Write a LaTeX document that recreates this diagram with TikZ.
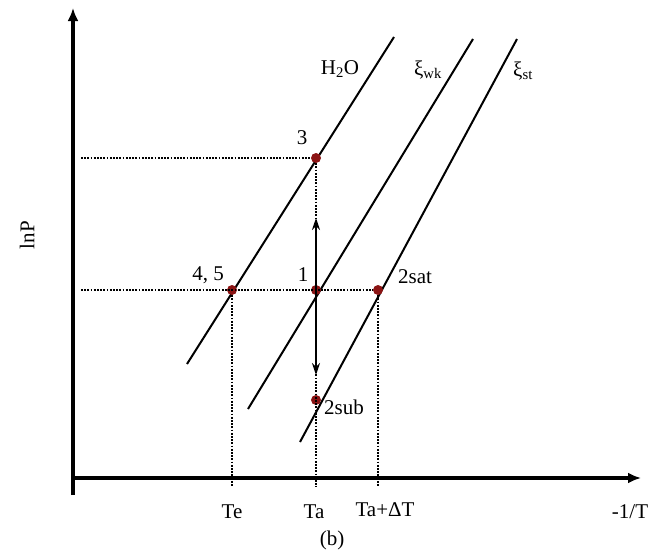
\documentclass[tikz,border=0pt]{standalone}
\usepackage{fontspec}
\setmainfont{Liberation Serif}
\usepackage{xcolor}
\usepackage{tikz}
\usetikzlibrary{arrows.meta,positioning}
\definecolor{ptred}{HTML}{8B1414}

\begin{document}
\begin{tikzpicture}[
  x=1pt,y=-1pt,
  axis/.style={line width=3.5pt,-{Latex[length=13pt,width=11pt]}},
  curve/.style={line width=2pt},
  guide/.style={line width=1.8pt,dash pattern=on 1.7pt off 1.5pt},
  pt/.style={circle,fill=ptred,inner sep=0pt,minimum size=10pt},
  lbl/.style={font=\fontsize{21}{24}\selectfont,inner sep=1pt},
  dbl/.style={line width=2.2pt,{Stealth[length=12pt,width=8pt]}-{Stealth[length=12pt,width=8pt]}}
]
\useasboundingbox (0,0) rectangle (663,554);
% axes
\coordinate (ytop) at (73,8);
\coordinate (ybot) at (73,495);
\coordinate (xorg) at (72,478);
\coordinate (xend) at (641,478);
\draw[axis] (ybot) -- (ytop);
\draw[axis] (xorg) -- (xend);
% saturation lines
\coordinate (h2oA) at (187,364);
\coordinate (h2oB) at (394,37);
\coordinate (wkA) at (248,409);
\coordinate (wkB) at (473,39);
\coordinate (stA) at (300,442);
\coordinate (stB) at (517,39);
\draw[curve] (h2oA) -- (h2oB);
\draw[curve] (wkA) -- (wkB);
\draw[curve] (stA) -- (stB);
% state points
\node[pt] (p3) at (316,158) {};
\node[pt] (p1) at (316,290) {};
\node[pt] (p45) at (232,290) {};
\node[pt] (p2sat) at (378,290) {};
\node[pt] (p2sub) at (316,400) {};
% dotted guides
\coordinate (g3) at (81,158);
\coordinate (g1) at (81,290);
\coordinate (te) at (232,487);
\coordinate (ta) at (316,487);
\coordinate (tadt) at (378,487);
\draw[guide] (g3) -- (p3);
\draw[guide] (g1) -- (p2sat);
\draw[guide] (p45) -- (te);
\draw[guide] (p3) -- (ta);
\draw[guide] (p2sat) -- (tadt);
% pressure swing
\coordinate (arrT) at (316,218);
\coordinate (arrB) at (316,375);
\draw[dbl] (arrT) -- (arrB);
% labels
\node[lbl] (lh2o) at (340,69) {H\textsubscript{2}O};
\node[lbl] (lwk) at (428,70) {ξ\textsubscript{wk}};
\node[lbl] (lst) at (523,71) {ξ\textsubscript{st}};
\node[lbl] (l3) at (302,138) {3};
\node[lbl] (l45) at (208,275) {4, 5};
\node[lbl] (l1) at (303,275) {1};
\node[lbl] (l2sat) at (415,277) {2sat};
\node[lbl] (l2sub) at (344,407) {2sub};
\node[lbl] (lte) at (232,512) {Te};
\node[lbl] (lta) at (314,512) {Ta};
\node[lbl] (ltadt) at (385,510) {Ta+ΔT};
\node[lbl] (lx) at (630,512) {-1/T};
\node[lbl] (ly) at (27,235) [rotate=90] {lnP};
\node[lbl] (lb) at (332,540) {(b)};
\end{tikzpicture}
\end{document}
